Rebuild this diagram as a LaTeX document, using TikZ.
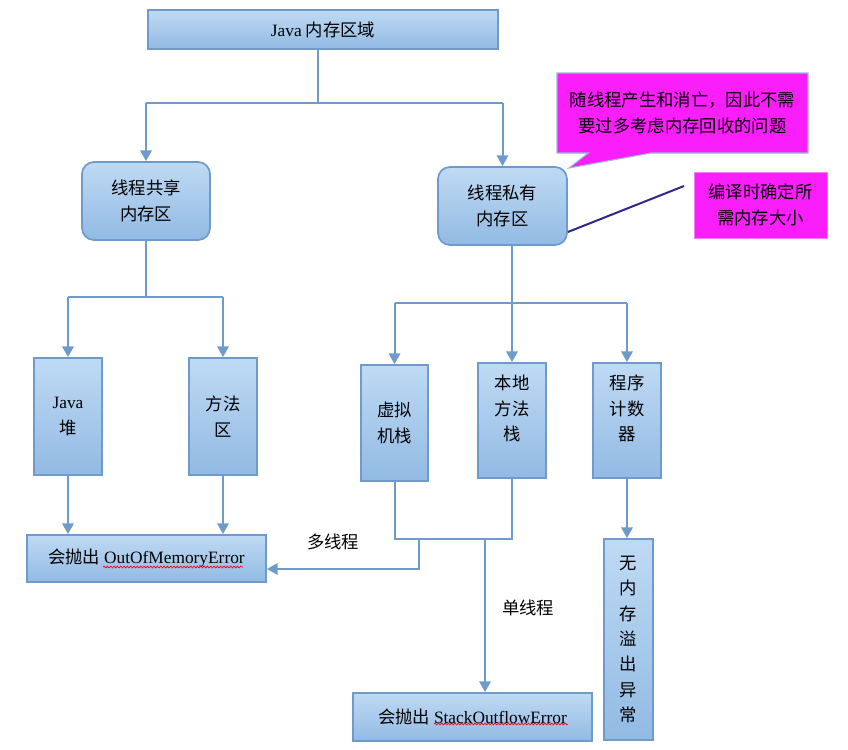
\documentclass[tikz,border=0pt]{standalone}
\usepackage{fontspec}
\usetikzlibrary{arrows.meta,shapes.callouts,decorations.pathmorphing}
\setmainfont{Liberation Serif}
\newfontfamily\cjk{Noto Sans CJK SC}
\definecolor{boxline}{RGB}{110,155,201}
\definecolor{boxtop}{RGB}{191,218,244}
\definecolor{boxbot}{RGB}{146,186,227}
\definecolor{notepink}{RGB}{250,30,250}
\definecolor{noteline}{RGB}{46,40,140}

\begin{document}
\begin{tikzpicture}[x=0.75pt, y=-0.75pt,
    box/.style={draw=boxline, line width=1.3pt, top color=boxtop, bottom color=boxbot, align=center, inner sep=2pt},
    link/.style={boxline, line width=1.5pt},
    arr/.style={link, -{Triangle[width=8.5pt,length=8pt]}},
    squiggle/.style={red, line width=0.5pt, decorate, decoration={snake, amplitude=0.7pt, segment length=2.5pt}},
    font=\cjk\fontsize{13}{19}\selectfont]
    \useasboundingbox (0, 0) rectangle (848, 749);

    \node[box, minimum width=262.5pt, minimum height=29.25pt] (top) at (323, 29.5) {{\rmfamily Java} 内存区域};
    \node[box, rounded corners=9pt, minimum width=96pt, minimum height=58.5pt] (shared) at (146, 201) {线程共享\\内存区};
    \node[box, rounded corners=9pt, minimum width=96.75pt, minimum height=58.5pt] (private) at (502.5, 206) {线程私有\\内存区};

    \node[box, minimum width=51pt, minimum height=87.75pt] (heap) at (68, 416.5) {{\rmfamily Java}\\堆};
    \node[box, minimum width=51pt, minimum height=87.75pt] (method) at (223, 416.5) {方法\\区};
    \node[box, minimum width=50.25pt, minimum height=87pt] (vmstack) at (394.5, 423) {虚拟\\机栈};
    \node[box, minimum width=51pt, minimum height=86.25pt] (natstack) at (512, 420.5) {本地\\方法\\栈\\~};
    \node[box, minimum width=51pt, minimum height=86.25pt] (pc) at (627, 420.5) {程序\\计数\\器\\~};

    \node[box, minimum width=179.25pt, minimum height=35.25pt] (oom) at (146.5, 558.5) {会抛出 {\rmfamily OutOfMemoryError}};
    \node[box, minimum width=179.25pt, minimum height=36pt] (sof) at (472.5, 717) {会抛出 {\rmfamily StackOutflowError}};
    \node[box, minimum width=36.75pt, minimum height=150.75pt] (nooom) at (628.5, 639.5) {无\\内\\存\\溢\\出\\异\\常};

    \node[rectangle callout, callout absolute pointer={(569, 168)}, callout pointer width=47pt, fill=notepink, draw=boxline!70!white, line width=0.8pt, minimum width=188.25pt, minimum height=60pt, align=center] (note1) at (682.5, 113) {随线程产生和消亡，因此不需\\要过多考虑内存回收的问题};
    \node[fill=notepink, draw=notepink!60!white, minimum width=99.75pt, minimum height=49.5pt, align=center] (note2) at (760.5, 205) {编译时确定所\\需内存大小};

    \node (lblmulti) at (333, 542) {多线程};
    \node (lblsingle) at (528, 608) {单线程};

    % spell-check marks
    \draw[squiggle] (103, 567) -- (243, 567);
    \draw[squiggle] (434, 724) -- (568, 724);

    \coordinate (j1) at (318, 103);
    \coordinate (j2) at (145, 297);
    \coordinate (j3) at (512, 303);
    \coordinate (j4) at (0, 539);
    \coordinate (multi) at (419, 539);
    \coordinate (bend) at (419, 569);
    \coordinate (single) at (485, 539);
    \coordinate (lead) at (684, 186);

    \draw[link] (top.south -| j1) to (j1);
    \draw[link] (shared |- j1) to (private |- j1);
    \draw[arr] (shared |- j1) to (shared);
    \draw[arr] (private |- j1) to (private);

    \draw[link] (shared) to (shared |- j2);
    \draw[link] (heap |- j2) to (method |- j2);
    \draw[arr] (heap |- j2) to (heap);
    \draw[arr] (method |- j2) to (method);
    \draw[arr] (heap) to (heap |- oom.north);
    \draw[arr] (method) to (method |- oom.north);

    \draw[link] (private.south -| j3) to (j3);
    \draw[link] (vmstack |- j3) to (pc |- j3);
    \draw[arr] (vmstack |- j3) to (vmstack);
    \draw[arr] (j3) to (natstack);
    \draw[arr] (pc |- j3) to (pc);
    \draw[arr] (pc) to (pc |- nooom.north);

    \draw[link] (vmstack) -- (vmstack |- j4) -- (natstack |- j4) -- (natstack);
    \draw[arr] (multi) -- (bend) -- (oom.east |- bend);
    \draw[arr] (single) to (single |- sof.north);

    \draw[noteline, line width=1.5pt] (lead) to ([yshift=-19.5pt]private.east);
\end{tikzpicture}
\end{document}
